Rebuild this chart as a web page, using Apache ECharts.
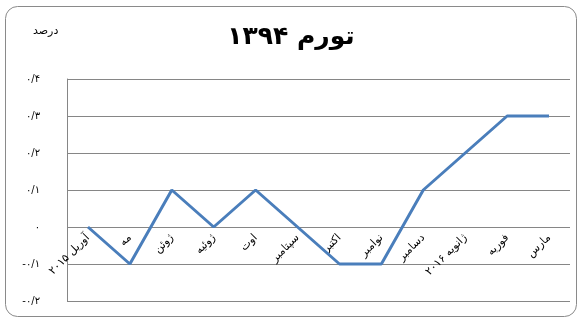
<!DOCTYPE html>
<html><head><meta charset="utf-8">
<script src="https://cdn.jsdelivr.net/npm/echarts@6/dist/echarts.min.js"></script>
<style>html,body{margin:0;padding:0;background:#fff}#c{width:582px;height:320px}</style>
</head><body><div id="c"></div>
<script>
const categories = ['آوریل ۲۰۱۵','مه','ژوئن','ژوئیه','اوت','سپتامبر','اکتبر','نوامبر','دسامبر','ژانویه ۲۰۱۶','فوریه','مارس'];
const inflation = [0, -0.1, 0.1, 0, 0.1, 0, -0.1, -0.1, 0.1, 0.2, 0.3, 0.3];
const titleText = 'تورم ۱۳۹۴';
const unitText = 'درصد';

const fa = s => String(s).replace(/[0-9]/g, d => '۰۱۲۳۴۵۶۷۸۹'[d]);
function fmt(v){
  const n = Math.round(v*10);
  if (n === 0) return '۰';
  const a = Math.abs(n);
  return (n < 0 ? '-' : '') + fa('0/' + a);
}
const yMin = -0.2, yMax = 0.4;
const gridTop = 79, gridBottom = 19, H = 320;
const plotH = H - gridTop - gridBottom;
const zeroOffset = plotH * (0 - yMin) / (yMax - yMin);

const chart = echarts.init(document.getElementById('c'));
chart.setOption({
  animation:false,
  backgroundColor:'#fff',
  graphic:[
    {type:'rect', shape:{x:5.5,y:6.5,width:571,height:310,r:12}, style:{fill:'none',stroke:'#8a8a8a',lineWidth:1}, z:-1},
    {type:'text', left:'center', top:25, style:{text:titleText, font:'bold 25px "DejaVu Sans"', fill:'#000'}},
    {type:'text', left:33, top:26, style:{text:unitText, font:'11px "DejaVu Sans"', fill:'#000'}}
  ],
  grid:{left:67, right:12, top:gridTop, bottom:gridBottom, containLabel:false, outerBoundsMode:'none'},
  xAxis:{
    type:'category', data:categories, boundaryGap:true,
    offset: -zeroOffset,
    axisLine:{show:false, onZero:false},
    axisTick:{show:false},
    axisLabel:{rotate:45, interval:0, margin:9, fontSize:11, fontFamily:'DejaVu Sans', color:'#000'}
  },
  yAxis:{
    type:'value', min:yMin, max:yMax, interval:0.1,
    axisLine:{show:true, lineStyle:{color:'#868686'}},
    axisTick:{show:false},
    splitLine:{show:true, lineStyle:{color:'#868686', width:1}},
    axisLabel:{margin:27, fontSize:10, fontFamily:'DejaVu Sans', color:'#000', formatter:fmt}
  },
  series:[{type:'line', data:inflation, showSymbol:false, symbol:'none',
    lineStyle:{color:'#4a7ebb', width:3}, itemStyle:{color:'#4a7ebb'}}]
});
</script></body></html>
